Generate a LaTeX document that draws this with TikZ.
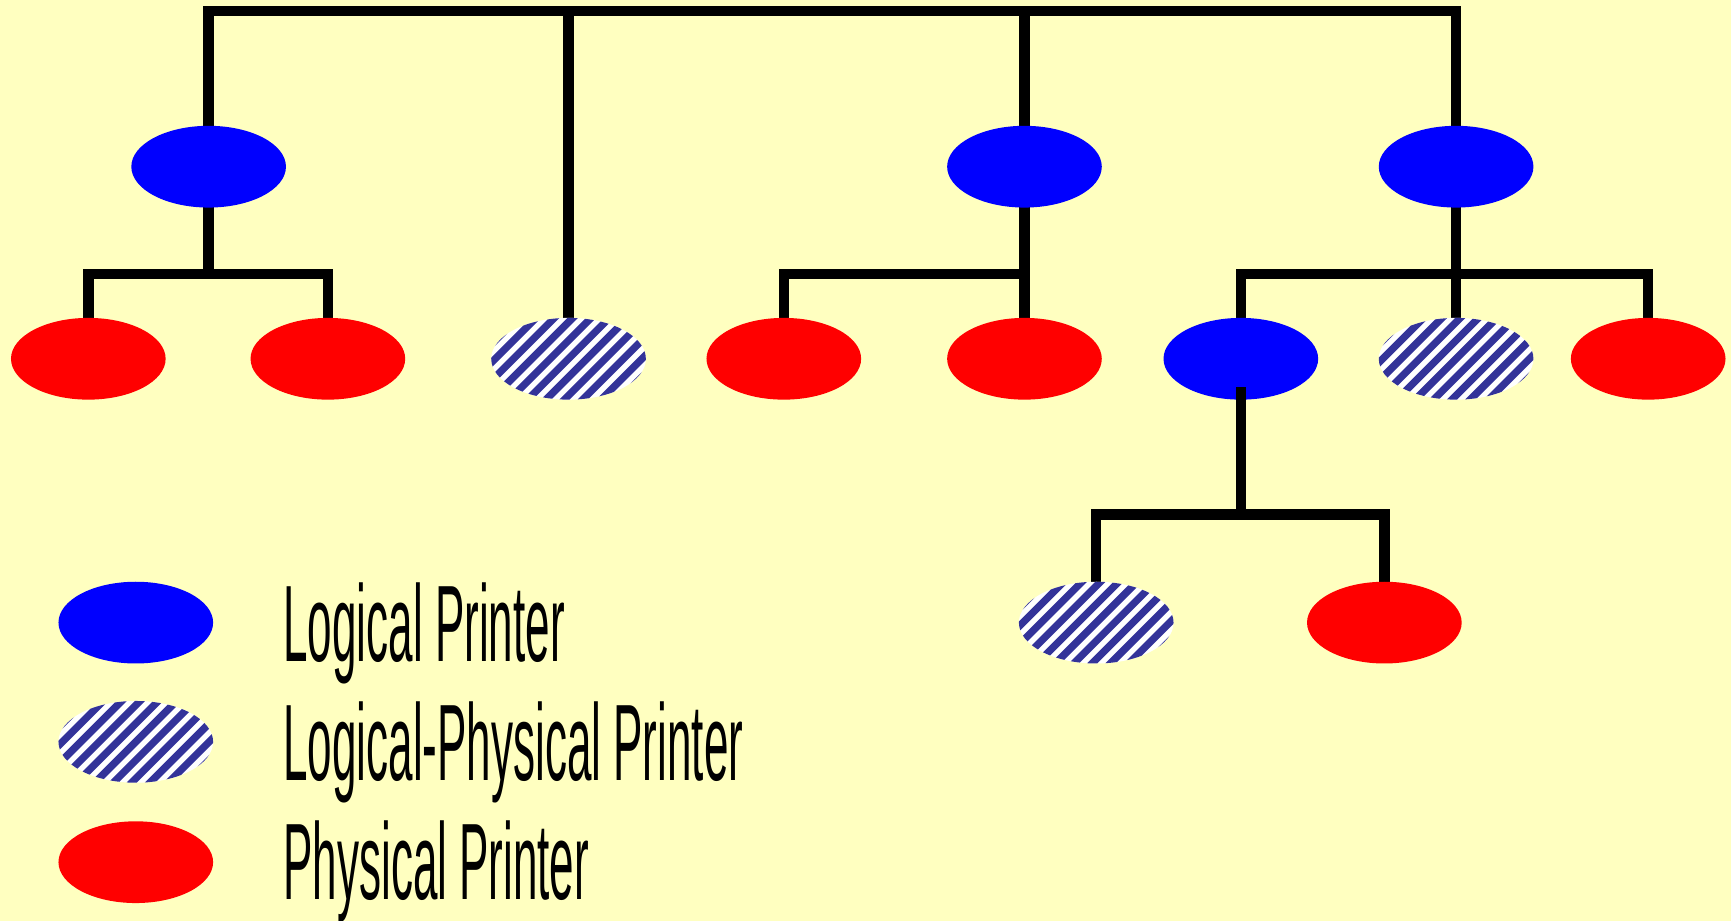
\documentclass[tikz,border=0pt]{standalone}
\usepackage{fontspec}
\usepackage{graphicx}
\setmainfont{Liberation Sans}
\usetikzlibrary{shapes.geometric,backgrounds}
\definecolor{paper}{HTML}{FFFFC0}
\definecolor{hatchblue}{HTML}{333399}

\tikzset{
  printer/.style={ellipse, minimum width=1.40cm, minimum height=0.74cm, inner sep=0pt, draw=none},
  logical/.style={printer, fill=blue},
  physical/.style={printer, fill=red},
  mixed/.style={printer, fill=white,
    path picture={\foreach \k in {-14,...,14}
      \draw[hatchblue, line width=0.066cm]
        ([shift={(\k*0.166cm-0.8cm,-0.8cm)}]path picture bounding box.center) -- ++(1.6cm,1.6cm);}},
  link/.style={line width=0.095cm, line cap=rect},
  legendtext/.style={anchor=base west, inner sep=0pt, font=\fontsize{28}{32}\selectfont}
}
\newcommand{\narrow}[1]{\scalebox{0.405}[1]{#1}}

\begin{document}
\begin{tikzpicture}[x=0.01cm, y=-0.01cm]
  \useasboundingbox (0,0) rectangle (1568,834);

  % printers of the tree
  \node[logical]  (A)  at (189,151) {};
  \node[mixed]    (B)  at (515,325) {};
  \node[logical]  (C)  at (928,151) {};
  \node[logical]  (D)  at (1319,151) {};
  \node[physical] (A1) at (80,325) {};
  \node[physical] (A2) at (297,325) {};
  \node[physical] (C1) at (710,325) {};
  \node[physical] (C2) at (928,325) {};
  \node[logical]  (D1) at (1124,325) {};
  \node[mixed]    (D2) at (1319,325) {};
  \node[physical] (D3) at (1493,325) {};
  \node[mixed]    (E1) at (993,564) {};
  \node[physical] (E2) at (1254,564) {};

  % junction points on the bars
  \coordinate (jtop) at (928,10);
  \coordinate (ja) at (189,248);
  \coordinate (jc) at (928,248);
  \coordinate (jd) at (1319,248);
  \coordinate (je) at (1124,466);

  \begin{scope}[on background layer]
    \fill[paper] (0,0) rectangle (1568,834);
    \draw[link] (A.north) |- (jtop) -| (D.north);
    \draw[link] (B.north) -- (B.north |- jtop);
    \draw[link] (C.north) -- (jtop);

    \draw[link] (A.south) -- (ja);
    \draw[link] (A1.north) |- (ja) -| (A2.north);

    \draw[link] (C.south) -- (jc);
    \draw[link] (C1.north) |- (jc) -- (C2.north);

    \draw[link] (D.south) -- (jd);
    \draw[link] (D1.north) |- (jd) -| (D3.north);
    \draw[link] (jd) -- (D2.north);

    \draw[link] (E1.north) |- (je) -| (E2.north);
  \end{scope}
  \draw[link] ([yshift=0.07cm]D1.south) -- (je);

  % legend
  \node[logical]  (LgA) at (123,564) {};
  \node[mixed]    (LgB) at (123,672) {};
  \node[physical] (LgC) at (123,781) {};
  \node[legendtext] (TA) at (256,599) {\narrow{Logical Printer}};
  \node[legendtext] (TB) at (256,707) {\narrow{Logical-Physical Printer}};
  \node[legendtext] (TC) at (256,815) {\narrow{Physical Printer}};
\end{tikzpicture}
\end{document}
